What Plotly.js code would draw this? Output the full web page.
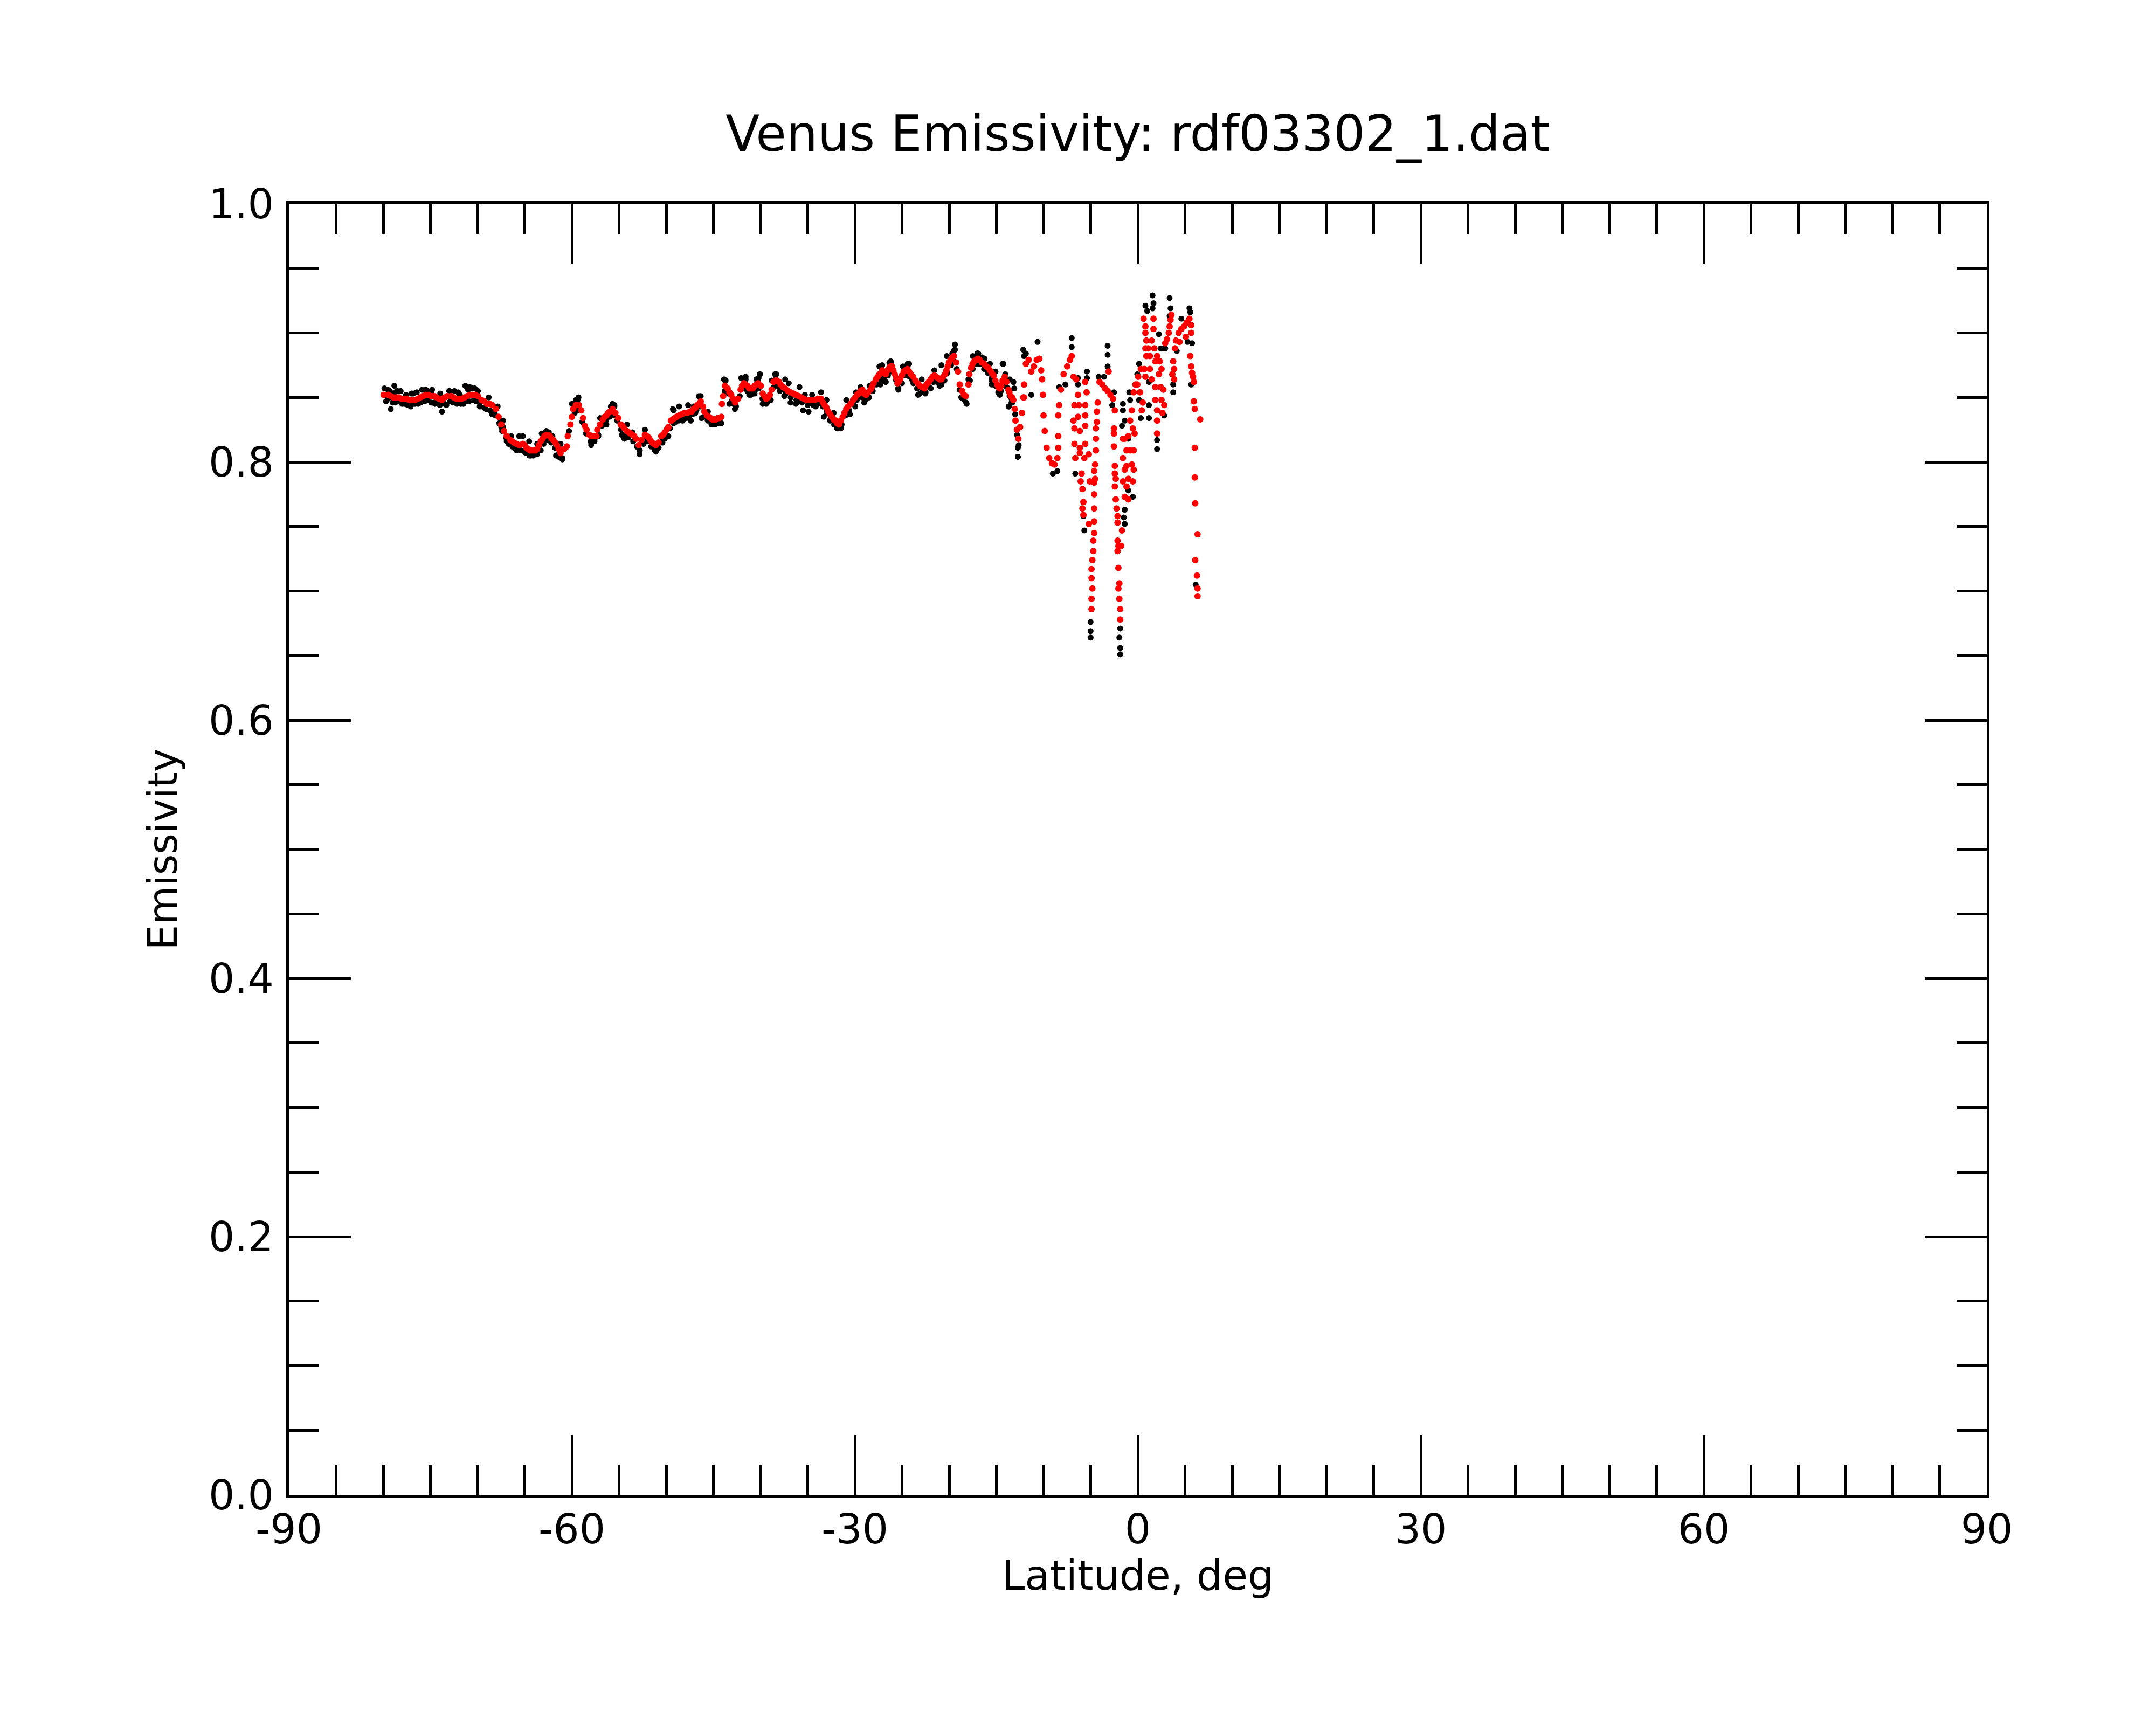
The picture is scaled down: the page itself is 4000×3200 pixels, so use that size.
<!DOCTYPE html>
<html>
<head>
<meta charset="utf-8">
<script src="https://cdn.plot.ly/plotly-3.0.1.min.js"></script>
<style>
  html, body { margin: 0; padding: 0; background: #fff; }
  #chart { width: 4000px; height: 3200px; }
</style>
</head>
<body>
<div id="chart"></div>
<script>
// Latitude (deg) / emissivity.
// Red = smoothed track, black = raw footprints.
const redLat = [
  -79.96,-79.49,-78.91,-78.34,-77.77,-77.20,-76.63,-76.06,-75.49,-74.91,-74.34,-73.77,-73.20,-72.82,-72.25,-71.68,-71.11,-70.53,-69.96,-69.58,
  -69.01,-68.44,-68.06,-67.77,-67.49,-67.20,-66.91,-66.53,-66.15,-65.58,-65.20,-64.82,-64.44,-64.06,-63.68,
  -79.20,-78.63,-78.06,-77.49,-76.91,-76.34,-75.77,-75.20,-74.63,-74.06,-73.49,-72.53,-71.96,-71.39,-70.82,-70.25,-69.30,-68.72,-66.34,-65.87,
  -65.01,-64.63,-64.25,-63.87,
  -63.49,-63.11,-62.72,-62.34,-61.96,-61.58,-61.20,-60.82,-60.53,-60.44,-60.15,-60.00,-59.87,-59.58,-59.26,-59.01,-58.82,-58.63,-58.44,-58.15,
  -57.77,-57.39,-57.30,-57.01,-56.72,-56.34,-55.96,-55.68,-55.39,-55.10,-54.82,-54.44,-53.96,-53.58,-53.20,-52.92,-52.63,-52.25,-51.87,-51.49,
  -51.10,-50.82,-50.53,-50.15,-49.77,-49.49,-49.10,-48.63,-48.06,-47.49,-47.10,-46.72,-46.34,
  -63.30,-62.91,-62.53,-62.15,-61.77,-61.39,-57.96,-57.58,-56.53,-56.15,-54.63,-54.19,-53.77,-53.39,-52.06,-51.68,-51.30,-50.34,-49.96,-49.30,
  -48.91,-48.34,-47.77,-47.29,-46.91,-46.53,
  -46.11,-45.96,-45.68,-45.30,-44.91,-44.53,-44.15,-44.09,-43.96,-43.77,-43.49,-43.11,-42.69,-42.38,-42.11,-41.77,-41.39,-41.01,-40.63,-40.25,
  -39.96,-39.77,-39.39,-39.01,-38.82,-38.63,-38.25,-37.87,-37.39,-36.82,-36.25,-35.68,-35.11,-34.53,-33.96,-33.58,-33.20,-32.82,-32.44,-32.06,
  -31.68,-31.29,-30.91,-30.44,-29.96,-29.58,-29.20,
  -45.49,-45.10,-44.72,-44.34,-43.30,-42.91,-41.96,-41.58,-41.20,-40.82,-40.44,-39.58,-39.20,-38.44,-38.06,-37.62,-37.10,-36.53,-35.96,-35.39,
  -34.82,-34.25,-33.77,-33.39,-33.01,-32.63,-32.25,-31.87,-31.49,-31.10,-30.72,-30.19,-29.77,-29.39,
  -28.82,-28.34,-28.02,-27.77,-27.39,-27.10,-26.72,-26.34,-26.06,-25.77,-25.49,-25.20,-24.82,-24.44,-24.06,-23.58,-23.10,-22.63,-22.30,-21.96,
  -21.58,-21.20,-20.82,-20.44,-20.15,-19.87,-19.49,-19.26,-19.07,-18.88,-18.63,-18.25,-17.96,-17.87,-17.68,-17.35,-16.97,-16.53,-16.06,-15.68,
  -15.29,-14.91,-14.63,-14.34,-14.11,-13.92,-13.73,-13.47,-13.20,-13.05,-12.97,-12.82,-12.67,-12.48,-12.29,-12.15,
  -29.01,-28.59,-28.19,-27.58,-26.91,-26.53,-26.19,-25.92,-25.62,-25.35,-25.01,-24.63,-24.25,-23.83,-23.33,-22.88,-22.50,-22.15,-21.77,-21.39,
  -21.01,-20.63,-20.29,-20.02,-19.68,-18.44,-17.52,-17.16,-16.76,-16.29,-15.87,-15.49,-15.10,-14.78,-14.49,-13.62,-13.33,
  -12.06,-12.06,-11.87,-11.58,-11.30,-11.01,-10.72,-10.44,-10.25,-10.15,-10.06,-10.00,-9.87,-9.67,-9.39,-9.10,-8.82,-8.53,-8.44,-8.44,
  -8.44,-8.34,-8.15,-7.87,-7.49,-7.20,-7.01,-6.82,
  -6.53,-6.34,-6.72,-6.25,-6.82,-6.34,-6.72,-6.15,-6.72,-6.15,-6.63,-6.15,-5.96,-6.06,-5.87,-5.77,-5.87,-5.77,
  -5.58,-5.43,-5.58,-5.58,-5.58,-5.58,-5.67,-5.20,-5.10,-4.63,-4.63,-5.20,
  -4.25,-4.34,-4.34,-4.44,-4.44,-4.44,-4.53,-4.53,-4.63,-4.63,-4.63,-4.63,-4.72,-4.72,-4.82,-4.91,-4.91,-4.82,-4.91,-4.91,
  -4.06,-3.77,-3.49,-3.20,-2.91,-2.63,-2.44,-3.10,
  -2.53,-2.53,-2.53,-2.44,-2.44,-2.34,-2.44,-2.34,-2.25,-2.15,-2.15,-2.15,-2.06,-2.15,-2.06,-1.96,-2.06,-1.96,-1.87,-1.87,
  -1.58,-1.20,-0.82,-0.44,-1.58,-1.20,-0.63,-1.39,-1.01,-0.53,-0.44,-1.58,-1.20,-1.39,-1.01,-1.68,-1.77,
  -1.39,-1.01,-0.82,-0.53,-0.34,-0.63,-0.44,-0.25,-0.06,0.23,0.52,0.42,0.04,0.32,
  0.61,0.80,0.80,0.90,0.80,0.90,0.70,0.80,1.09,1.28,1.47,1.66,1.66,1.75,1.85,2.04,2.33,2.23,2.51,1.28,1.47,
  1.85,1.85,2.04,2.04,2.04,2.42,2.51,2.71,2.80,2.61,
  3.75,3.85,3.66,3.85,
  2.90,3.09,3.28,3.37,3.47,3.56,3.94,4.04,4.33,4.61,4.90,5.18,5.47,5.66,5.66,5.09,4.42,
  5.56,5.66,5.75,5.85,5.94,5.94,6.04,6.61,6.04,6.04,6.08,6.33,6.08,6.27,6.33,6.33
];
const redEmis = [
  0.852,0.852,0.850,0.850,0.849,0.848,0.848,0.850,0.852,0.851,0.850,0.848,0.851,0.851,0.849,0.849,0.851,0.852,0.851,0.848,
  0.845,0.844,0.841,0.835,0.829,0.824,0.820,0.817,0.815,0.813,0.814,0.811,0.809,0.809,0.810,
  0.851,0.850,0.849,0.849,0.848,0.849,0.851,0.852,0.851,0.849,0.850,0.850,0.849,0.850,0.852,0.852,0.847,0.845,0.816,0.814,
  0.813,0.810,0.809,0.809,
  0.813,0.818,0.821,0.820,0.817,0.813,0.807,0.810,0.812,0.820,0.829,0.835,0.841,0.844,0.844,0.840,0.834,0.828,0.825,0.821,
  0.820,0.820,0.825,0.829,0.833,0.836,0.839,0.841,0.838,0.834,0.829,0.826,0.823,0.821,0.818,0.813,0.817,0.821,0.819,0.815,
  0.813,0.815,0.820,0.823,0.827,0.832,0.834,0.836,0.838,0.839,0.841,0.844,0.847,
  0.816,0.820,0.821,0.818,0.815,0.810,0.820,0.820,0.835,0.838,0.828,0.824,0.822,0.820,0.820,0.817,0.814,0.821,0.825,0.833,
  0.835,0.837,0.838,0.839,0.842,0.845,
  0.843,0.839,0.836,0.834,0.833,0.834,0.835,0.845,0.851,0.859,0.857,0.852,0.846,0.849,0.856,0.861,0.859,0.857,0.859,0.861,
  0.859,0.853,0.849,0.852,0.856,0.862,0.863,0.860,0.857,0.854,0.852,0.850,0.848,0.848,0.849,0.849,0.844,0.839,0.835,0.832,
  0.829,0.835,0.841,0.845,0.850,0.853,0.856,
  0.835,0.833,0.833,0.834,0.854,0.849,0.859,0.860,0.857,0.857,0.860,0.851,0.850,0.863,0.862,0.858,0.855,0.853,0.851,0.849,
  0.848,0.848,0.849,0.846,0.842,0.837,0.833,0.830,0.832,0.838,0.843,0.848,0.852,0.855,
  0.852,0.856,0.861,0.864,0.868,0.871,0.868,0.873,0.874,0.868,0.861,0.864,0.870,0.872,0.868,0.863,0.859,0.857,0.861,0.864,
  0.867,0.865,0.864,0.868,0.874,0.879,0.882,0.877,0.870,0.860,0.855,0.851,0.860,0.868,0.873,0.878,0.880,0.877,0.874,0.871,
  0.867,0.860,0.857,0.863,0.866,0.862,0.856,0.851,0.848,0.841,0.832,0.825,0.818,0.827,0.838,0.850,
  0.853,0.854,0.858,0.866,0.869,0.871,0.874,0.871,0.865,0.862,0.867,0.871,0.870,0.866,0.861,0.858,0.859,0.862,0.866,0.866,
  0.864,0.866,0.871,0.877,0.881,0.852,0.876,0.879,0.879,0.876,0.873,0.869,0.863,0.858,0.859,0.854,0.850,
  0.850,0.860,0.876,0.879,0.870,0.874,0.879,0.880,0.871,0.864,0.852,0.836,0.824,0.811,0.803,0.799,0.798,0.803,0.811,0.820,
  0.836,0.844,0.856,0.868,0.874,0.879,0.882,0.866,
  0.864,0.852,0.844,0.844,0.832,0.835,0.826,0.824,0.814,0.811,0.803,0.807,0.791,0.785,0.779,0.769,0.764,0.759,
  0.862,0.854,0.844,0.836,0.828,0.814,0.803,0.806,0.785,0.784,0.793,0.752,
  0.846,0.839,0.831,0.826,0.818,0.809,0.798,0.787,0.775,0.764,0.754,0.745,0.739,0.731,0.724,0.717,0.710,0.702,0.694,0.686,
  0.862,0.860,0.857,0.855,0.852,0.849,0.840,0.870,
  0.826,0.822,0.812,0.797,0.791,0.787,0.781,0.771,0.764,0.758,0.753,0.739,0.735,0.731,0.718,0.706,0.702,0.694,0.686,0.678,
  0.818,0.809,0.809,0.809,0.803,0.797,0.798,0.794,0.787,0.785,0.794,0.785,0.781,0.773,0.771,0.747,0.735,
  0.818,0.820,0.832,0.826,0.822,0.840,0.854,0.860,0.860,0.854,0.846,0.840,0.866,0.872,
  0.911,0.905,0.900,0.894,0.888,0.882,0.872,0.866,0.888,0.882,0.894,0.911,0.903,0.888,0.878,0.882,0.878,0.868,0.872,0.872,0.864,
  0.858,0.848,0.840,0.832,0.822,0.858,0.848,0.856,0.844,0.838,
  0.878,0.872,0.868,0.864,
  0.892,0.895,0.900,0.905,0.910,0.914,0.888,0.894,0.900,0.903,0.905,0.908,0.911,0.906,0.900,0.897,0.893,
  0.882,0.874,0.869,0.866,0.862,0.847,0.841,0.833,0.811,0.788,0.768,0.744,0.724,0.712,0.702,0.696
];
const blackLat = [
  -79.87,-78.82,-79.20,-78.15,-77.10,-76.63,-75.87,-74.82,-73.77,-74.15,-73.30,-73.01,-72.44,-71.77,-71.30,-70.82,-70.25,-69.96,-69.77,-68.82,
  -69.10,-68.44,-67.87,-67.30,-67.49,-66.44,-66.91,-65.58,-65.20,-65.87,-64.53,-64.34,-63.68,-63.87,
  -79.49,-78.34,-77.77,-76.06,-75.30,-74.53,-72.63,-71.11,-79.30,-77.58,-76.44,-75.30,-73.96,-71.87,
  -78.73,-76.82,-74.91,-72.06,-70.15,-68.25,-67.30,-66.15,-65.01,-63.87,-78.73,-76.82,-74.91,-72.06,-70.53,
  -63.20,-63.30,-62.44,-62.06,-61.68,-61.01,-61.20,-59.30,-59.58,-57.96,-57.58,-57.01,-56.82,-56.34,-55.87,-55.49,-54.72,-54.15,-54.44,-53.58,
  -52.82,-53.11,-52.25,-52.06,-51.10,-50.91,-50.34,-49.77,-49.30,-48.63,-48.25,-47.68,-47.39,-46.91,-46.53,-46.63,
  -62.53,-61.39,-57.96,-57.20,-55.49,-53.96,-52.82,-51.10,-50.15,-49.01,-47.87,-62.72,-55.49,-49.20,-47.10,
  -46.34,-45.58,-46.25,-45.10,-44.15,-43.87,-42.72,-42.91,-42.06,-41.58,-41.20,-40.63,-40.44,-40.06,-39.77,-38.91,-38.82,-38.44,-37.96,-37.49,
  -37.39,-37.01,-36.82,-36.25,-35.87,-35.49,-34.91,-34.53,-34.15,-33.58,-33.29,-33.01,-32.63,-32.25,-31.87,-31.49,-31.10,-30.53,-30.91,-29.96,
  -29.87,-29.39,
  -45.20,-43.30,-41.01,-39.30,-37.77,-36.06,-34.53,-33.01,-31.87,-30.15,-41.58,-38.34,-35.30,
  -29.01,-29.20,-28.44,-27.30,-27.39,-26.72,-26.34,-25.39,-24.91,-24.25,-23.96,-23.30,-22.91,-22.53,-21.96,-21.58,-20.82,-21.01,-20.25,-19.39,
  -19.39,-18.72,-18.15,-17.96,-17.49,-16.91,-16.25,-15.87,-15.49,-15.10,-14.63,-14.34,-14.06,-13.58,-13.20,-13.68,-13.39,-13.10,-12.72,-12.72,
  -12.63,-12.15,
  -28.63,-26.91,-25.39,-23.10,-20.82,-18.53,-16.82,-15.49,-14.72,-13.39,-26.15,-24.44,-19.68,-17.01,
  -12.72,-15.68,-14.25,-13.20,-13.68,-11.87,-10.63,-11.30,-12.06,-9.01,-8.53,-7.01,-7.01,-8.34,-7.68,-6.34,-5.39,-5.39,-6.34,-6.63,
  -5.77,-5.67,-5.01,-5.01,-5.01,-4.15,-3.58,-3.20,-3.20,-3.20,-2.53,-2.72,-1.87,-1.96,-1.87,-1.87,-1.58,-1.58,-1.39,-1.68,
  -1.01,-1.01,-0.53,-1.39,-1.49,-1.39,-0.91,-0.82,0.13,-0.06,0.13,0.32,1.18,1.18,1.18,0.80,0.99,1.56,1.66,1.56,
  2.23,2.42,3.37,3.47,3.37,4.61,5.47,5.56,2.90,2.04,2.04,2.80,3.75,3.75,5.66,6.13,5.75,5.28,4.13,
  // lower edge of the raw-footprint band
  -79.7,-79.0,-78.0,-77.4,-76.3,-75.6,-74.6,-74.0,-73.5,-72.9,-72.2,-71.5,-70.9,-70.4,-69.8,-69.3,-68.7,-68.1,-67.7,-67.4,
  -67.0,-66.7,-66.3,-65.9,-65.4,-64.9,-64.5,-64.1,-63.7,
  -63.4,-63.0,-62.6,-62.2,-61.8,-61.4,-61.0,-60.3,-59.7,-59.3,-58.9,-58.5,-58.0,-57.6,-57.2,-56.8,-56.4,-56.0,-55.6,-55.2,
  -54.8,-54.4,-54.0,-53.5,-53.1,-52.8,-52.4,-52.0,-51.6,-51.2,-50.8,-50.4,-50.0,-49.6,-49.2,-48.7,-48.2,-47.6,-47.2,-46.8,-46.4,
  -46.0,-45.6,-45.2,-44.8,-44.4,-43.8,-43.4,-43.0,-42.6,-42.2,-41.8,-41.4,-41.0,-40.6,-40.2,-39.8,-39.4,-39.0,-38.6,-38.2,
  -37.8,-37.3,-36.8,-36.2,-35.6,-35.0,-34.4,-33.9,-33.4,-33.0,-32.6,-32.2,-31.8,-31.4,-31.0,-30.6,-30.2,-29.8,-29.4,
  -28.9,-28.5,-28.1,-27.7,-27.3,-26.9,-26.5,-26.1,-25.7,-25.4,-25.0,-24.6,-24.2,-23.8,-23.4,-22.9,-22.5,-22.1,-21.7,-21.3,
  -20.9,-20.5,-20.2,-19.8,-19.5,-19.2,-18.9,-18.6,-18.2,-17.8,-17.5,-17.1,-16.7,-16.3,-15.9,-15.5,-15.1,-14.8,-14.5,-14.2,
  -13.9,-13.6,-13.3,-13.0,-12.8,
  // upper edge
  -79.5,-78.5,-77.0,-75.5,-73.0,-71.0,-70.3,-60.0,-59.4,-55.7,-43.7,-41.7,-40.2,-38.4,-27.1,-26.2,-24.4,-19.5,-17.0,-16.5
];
const blackEmis = [
  0.857,0.859,0.841,0.855,0.843,0.845,0.856,0.856,0.839,0.845,0.844,0.855,0.855,0.845,0.859,0.858,0.848,0.855,0.843,0.850,
  0.841,0.837,0.843,0.832,0.827,0.820,0.816,0.820,0.820,0.809,0.816,0.805,0.814,0.806,
  0.849,0.847,0.845,0.846,0.848,0.845,0.846,0.847,0.855,0.852,0.854,0.855,0.853,0.852,
  0.846,0.845,0.846,0.846,0.847,0.838,0.827,0.811,0.808,0.806,0.854,0.853,0.854,0.854,0.857,
  0.822,0.809,0.823,0.820,0.805,0.802,0.814,0.850,0.848,0.813,0.818,0.834,0.829,0.829,0.843,0.843,0.821,0.829,0.818,0.823,
  0.806,0.812,0.825,0.818,0.808,0.811,0.818,0.820,0.841,0.843,0.832,0.844,0.832,0.838,0.851,0.843,
  0.817,0.804,0.815,0.821,0.836,0.820,0.809,0.810,0.818,0.831,0.834,0.824,0.844,0.840,0.843,
  0.851,0.839,0.834,0.829,0.830,0.864,0.841,0.845,0.865,0.866,0.852,0.853,0.864,0.868,0.845,0.848,0.863,0.868,0.855,0.851,
  0.864,0.861,0.846,0.845,0.858,0.840,0.839,0.852,0.843,0.854,0.835,0.848,0.832,0.838,0.826,0.826,0.836,0.837,0.848,0.843,
  0.854,0.858,
  0.829,0.845,0.852,0.846,0.856,0.847,0.845,0.841,0.827,0.846,0.864,0.868,0.852,
  0.846,0.850,0.859,0.860,0.874,0.862,0.877,0.856,0.874,0.876,0.864,0.852,0.864,0.853,0.857,0.871,0.875,0.859,0.882,0.891,
  0.887,0.850,0.845,0.864,0.882,0.884,0.880,0.874,0.860,0.870,0.852,0.876,0.868,0.864,0.862,0.843,0.846,0.857,0.811,0.804,
  0.813,0.887,
  0.850,0.863,0.857,0.853,0.860,0.849,0.876,0.863,0.853,0.849,0.877,0.875,0.884,0.884,
  0.804,0.876,0.876,0.862,0.843,0.884,0.893,0.852,0.882,0.791,0.793,0.896,0.889,0.858,0.860,0.865,0.870,0.865,0.860,0.791,
  0.758,0.747,0.676,0.669,0.664,0.866,0.866,0.890,0.883,0.874,0.854,0.844,0.671,0.664,0.656,0.651,0.845,0.840,0.832,0.828,
  0.818,0.778,0.773,0.763,0.757,0.752,0.854,0.848,0.876,0.868,0.848,0.834,0.844,0.834,0.862,0.921,0.917,0.929,0.923,0.919,
  0.899,0.888,0.927,0.919,0.913,0.911,0.919,0.916,0.888,0.817,0.810,0.836,0.860,0.854,0.860,0.705,0.892,0.893,0.886,
  // lower edge
  0.847,0.846,0.845,0.844,0.845,0.847,0.846,0.844,0.845,0.847,0.845,0.845,0.847,0.848,0.846,0.842,0.840,0.836,0.830,0.824,
  0.819,0.814,0.812,0.810,0.809,0.807,0.805,0.805,0.806,
  0.809,0.814,0.817,0.815,0.811,0.806,0.803,0.824,0.838,0.840,0.831,0.822,0.816,0.816,0.820,0.828,0.832,0.835,0.837,0.832,
  0.825,0.821,0.819,0.816,0.812,0.809,0.814,0.816,0.812,0.809,0.811,0.815,0.820,0.826,0.830,0.832,0.834,0.835,0.837,0.840,0.843,
  0.835,0.832,0.830,0.829,0.830,0.855,0.853,0.848,0.843,0.851,0.857,0.855,0.853,0.855,0.857,0.849,0.845,0.848,0.858,0.859,
  0.856,0.853,0.850,0.848,0.846,0.844,0.844,0.845,0.843,0.838,0.833,0.829,0.826,0.829,0.836,0.840,0.845,0.848,0.851,
  0.848,0.850,0.855,0.860,0.864,0.865,0.867,0.870,0.864,0.857,0.861,0.867,0.866,0.861,0.857,0.854,0.854,0.858,0.862,0.862,
  0.860,0.863,0.869,0.875,0.878,0.872,0.856,0.850,0.846,0.863,0.872,0.876,0.876,0.872,0.869,0.865,0.859,0.854,0.855,0.860,
  0.858,0.851,0.846,0.837,0.821,
  // upper edge
  0.856,0.855,0.853,0.856,0.855,0.856,0.857,0.845,0.848,0.845,0.863,0.865,0.865,0.867,0.875,0.878,0.876,0.886,0.884,0.881
];

const xTickVals = [-90, -60, -30, 0, 30, 60, 90];
const xTickText = ['-90', '-60', '-30', '0', '30', '60', '90'];
const yTickVals = [0, 0.2, 0.4, 0.6, 0.8, 1.0];
const yTickText = ['0.0', '0.2', '0.4', '0.6', '0.8', '1.0'];

function drawEmissivityChart(el) {
    const font = 'DejaVu Sans, sans-serif';

    const traces = [
        {
            x: blackLat,
            y: blackEmis,
            type: 'scatter',
            mode: 'markers',
            marker: { size: 11, color: '#000000' },
            showlegend: false,
            hoverinfo: 'none'
        },
        {
            x: redLat,
            y: redEmis,
            type: 'scatter',
            mode: 'markers',
            marker: { size: 12, color: '#ff0000' },
            showlegend: false,
            hoverinfo: 'none'
        }
    ];

    // shared look of both axes: ticks inside, mirrored, black frame
    const axisBase = {
        showline: true,
        linecolor: '#000',
        linewidth: 5,
        mirror: 'ticks',
        ticks: 'inside',
        tickwidth: 5,
        tickcolor: '#000',
        showgrid: false,
        zeroline: false,
        tickmode: 'array',
        tickfont: { family: font, size: 76, color: '#000' }
    };

    const layout = {
        width: 4000,
        height: 3200,
        margin: { l: 536, r: 314, t: 378, b: 427 },
        paper_bgcolor: '#fff',
        plot_bgcolor: '#fff',
        title: {
            text: 'Venus Emissivity: rdf03302_1.dat',
            font: { family: font, size: 92, color: '#000' },
            x: 0.5,
            xref: 'paper',
            y: 0.9225,
            yref: 'container',
            yanchor: 'middle'
        },
        xaxis: Object.assign({}, axisBase, {
            range: [-90, 90],
            tickvals: xTickVals,
            ticktext: xTickText,
            ticklen: 111,
            ticklabelstandoff: -6,
            minor: { dtick: 5, tick0: -90, ticks: 'inside', ticklen: 56, tickwidth: 5, tickcolor: '#000', showgrid: false }
        }),
        yaxis: Object.assign({}, axisBase, {
            range: [0, 1],
            tickvals: yTickVals,
            ticktext: yTickText,
            ticklen: 115,
            ticklabelstandoff: 8,
            minor: { dtick: 0.05, tick0: 0, ticks: 'inside', ticklen: 56, tickwidth: 5, tickcolor: '#000', showgrid: false },
            title: { text: 'Emissivity', font: { family: font, size: 74, color: '#000' }, standoff: 36 }
        }),
        // x title placed by hand: the axis title sits too low under the labels
        annotations: [{
            text: 'Latitude, deg',
            xref: 'paper', yref: 'paper',
            x: 0.5, y: -0.0625,
            xanchor: 'center', yanchor: 'middle',
            showarrow: false,
            font: { family: font, size: 76, color: '#000' }
        }]
    };

    Plotly.newPlot(el, traces, layout, { displayModeBar: false, staticPlot: true });
}

drawEmissivityChart(document.getElementById('chart'));
</script>
</body>
</html>
